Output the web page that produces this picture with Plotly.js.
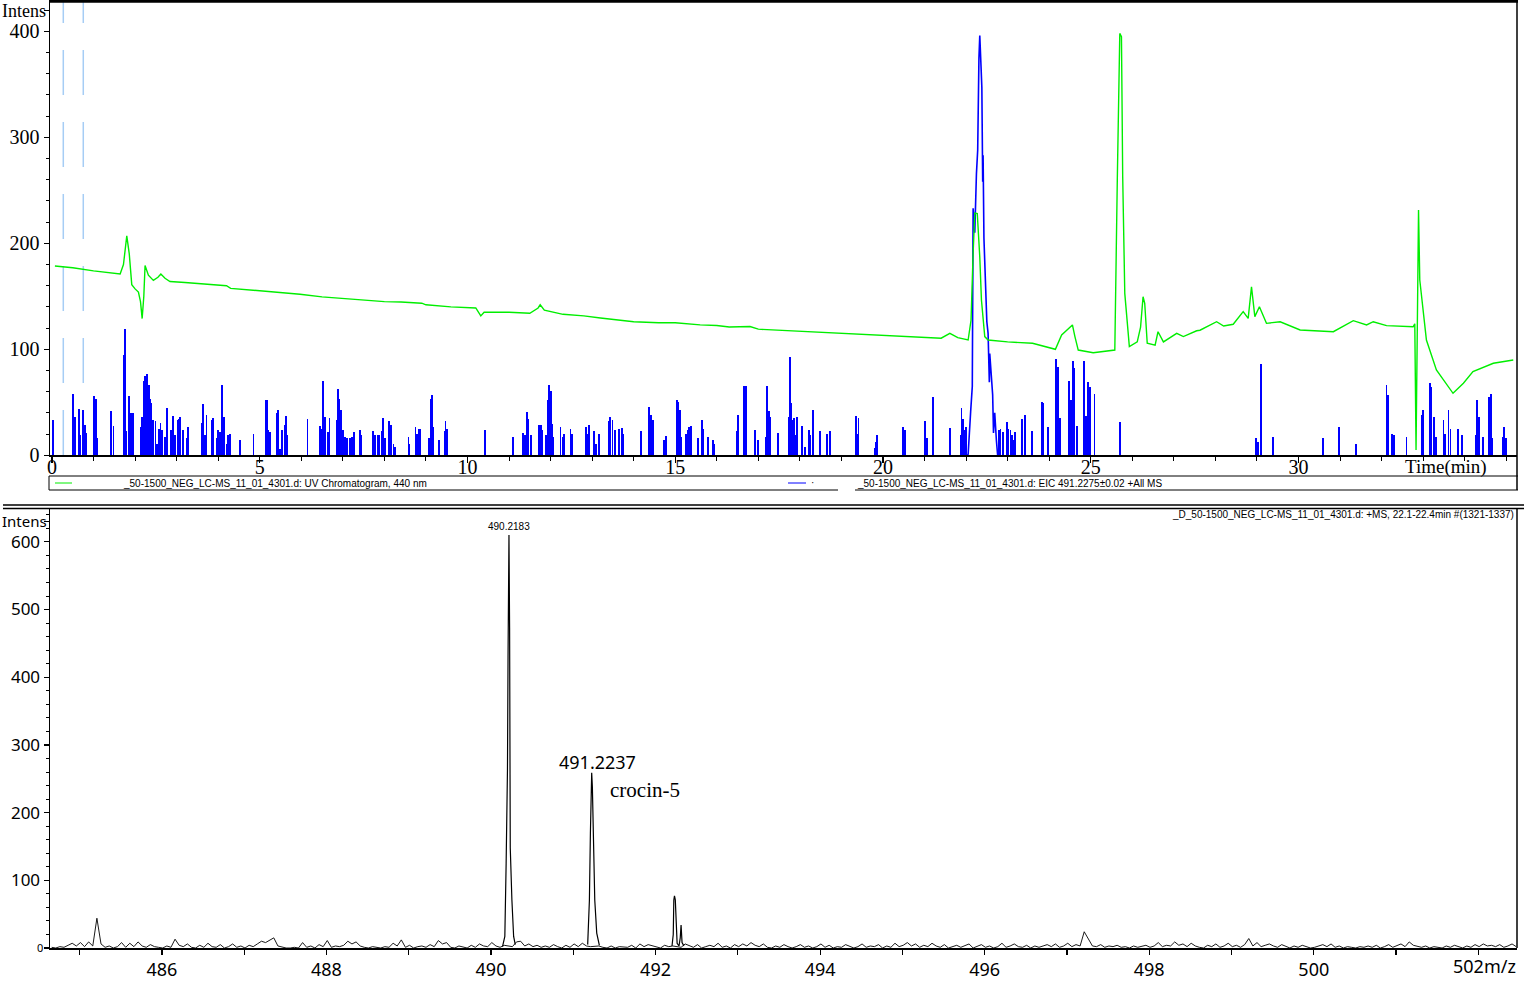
<!DOCTYPE html>
<html><head><meta charset="utf-8">
<script src="https://cdn.plot.ly/plotly-3.0.1.min.js"></script>
<style>html,body{margin:0;padding:0;background:#fff;}#chart{width:1524px;height:982px;}</style>
</head><body><div id="chart"></div>
<script>
// ---------- UV chromatogram (440 nm), minutes vs intensity ----------
const uvTime = [0.07,0.5,1.0,1.3,1.64,1.72,1.80,1.86,1.92,2.0,2.08,2.13,2.17,2.21,2.24,2.32,2.44,2.55,2.62,2.72,2.84,3.2,3.56,3.9,4.2,4.3,4.8,5.17,5.6,5.97,6.5,7.0,7.5,8.0,8.4,8.9,9.0,9.6,10.2,10.28,10.32,10.4,11.0,11.5,11.7,11.75,11.85,12.3,12.8,13.2,13.6,14.0,14.6,15.0,15.6,16.0,16.3,16.8,17.0,18.0,18.7,19.0,19.5,20.4,21.0,21.4,21.61,21.8,22.05,22.12,22.17,22.21,22.27,22.33,22.37,22.45,22.53,23.0,23.6,24.06,24.15,24.3,24.46,24.56,24.62,24.7,25.06,25.4,25.58,25.64,25.70,25.74,25.77,25.82,25.93,26.12,26.2,26.26,26.3,26.36,26.55,26.62,26.75,27.07,27.23,27.55,27.63,28.03,28.2,28.43,28.67,28.79,28.87,28.95,29.06,29.23,29.56,30.04,30.5,30.84,31.32,31.64,31.8,32.12,32.76,32.80,32.83,32.86,32.89,32.92,33.08,33.32,33.72,33.97,34.2,34.69,35.17];
const uvInt = [178.6,177,174,172.5,171,180,207,190,161,157,154,145,129,150,179,170,165,168,171,167,164,163,162,161,160,157.5,156,155,153.5,152,149.5,148,146.5,145,144.6,143.5,142,140,139,134,131.5,135,135,134,139,142,137,133,131.5,129.5,128,126,125,125,123,122.5,121,121.5,119,117,115.5,115.2,114.5,112,111,110.5,115,111,108.8,127.6,190.8,228.5,228,187,146.5,112,108.8,107,105.7,101,100,113.5,119.8,123,112,99.3,96.8,98,99.3,259.7,398,395,262.8,152.8,102.5,107,121,149.6,143.4,105.7,104,116.6,107,115,112,117.5,118,126,122,123.6,135.5,129.2,159,130.8,140.2,124.5,126,118.2,117,116.6,127,123,126,122.3,121.3,124,5,120,231.4,165.4,108.8,80.5,58.5,68,78.9,86.8,89.9];

// ---------- EIC 491.2275 ±0.02 : isolated spikes ----------
const eicTime = [0.03,0.51,0.55,0.64,0.67,0.75,0.79,0.83,1.01,1.05,1.09,1.43,1.48,1.73,1.75,1.79,1.86,1.90,1.94,2.13,2.17,2.21,2.23,2.25,2.29,2.33,2.36,2.38,2.44,2.49,2.53,2.57,2.61,2.65,2.72,2.77,2.86,2.92,2.97,3.02,3.05,3.08,3.15,3.24,3.28,3.60,3.63,3.69,3.72,3.84,3.87,3.96,4.00,4.04,4.08,4.10,4.14,4.20,4.24,4.28,4.52,4.85,5.14,5.18,5.21,5.25,5.41,5.44,5.49,5.54,5.60,5.63,5.66,6.15,6.45,6.48,6.53,6.57,6.64,6.68,6.85,6.89,6.91,6.95,7.01,7.06,7.09,7.17,7.21,7.27,7.41,7.45,7.73,7.77,7.84,7.88,7.93,7.97,8.01,8.12,8.15,8.22,8.25,8.58,8.60,8.75,8.79,8.84,8.87,9.08,9.12,9.15,9.18,9.32,9.45,9.47,9.51,10.42,11.09,11.34,11.38,11.44,11.47,11.52,11.73,11.76,11.79,11.90,11.94,11.97,12.00,12.03,12.07,12.24,12.29,12.33,12.48,12.51,12.85,12.89,12.92,13.04,13.09,13.16,13.40,13.44,13.49,13.54,13.65,13.71,13.74,14.17,14.36,14.42,14.46,14.74,14.78,15.04,15.07,15.11,15.14,15.25,15.30,15.34,15.37,15.54,15.64,15.67,15.79,15.90,15.93,16.49,16.52,16.66,16.70,16.91,17.00,17.19,17.21,17.25,17.28,17.47,17.74,17.77,17.79,17.83,17.86,17.89,17.94,18.05,18.13,18.21,18.24,18.31,18.48,18.66,18.72,19.35,19.38,19.41,19.80,19.83,19.86,20.49,20.53,21.01,21.07,21.20,21.61,21.87,21.89,21.93,21.97,22.00,22.80,22.83,22.88,22.98,23.02,23.07,23.10,23.14,23.18,23.35,23.42,23.58,23.82,23.86,23.98,24.17,24.21,24.26,24.48,24.53,24.57,24.60,24.66,24.83,24.88,24.94,24.98,25.09,25.70,28.98,29.02,29.09,29.11,29.39,30.60,30.97,31.38,32.12,32.16,32.26,32.30,32.60,32.97,33.00,33.16,33.20,33.26,33.30,33.49,33.53,33.61,33.66,33.83,33.93,34.26,34.30,34.35,34.44,34.59,34.63,34.66,34.92,34.95,35.00];
const eicInt = [33,57.5,36,44,19,43,29,21,56,53,16,42,28,95,119.5,23,56,40,40,27,36,70,74.5,45,77,66,53.5,49,33,32,11,25,30.5,24,17,44.6,23.6,37,19,33,34,36,23.6,16,27,30.5,48,19,38,33,35,16,23.6,22,58,66,36,11,19,20,14,20,52,52,23.6,22,40,43,6,23.6,29,37,19,34,28,25,70,36,22,35,33,63,53.5,42.5,23.6,17,16,16,17,22,24,19,23,19.5,19,19,23,35.5,16,32,29,11,8,17,11,27,20,25,25,16,53,56.6,27,14,23,32,25,24,17,21,19,40.6,34.6,19,29,29,24,19,52,66,61,30,17,27,17,20,25,20,27,20,29,23,11,20,32,36,33,23.6,25,26,20,23,46,38,33,14,18,52,50,42.5,17,20,23.6,27,28,16,33,25,17,14,11,23,38,65,65,24,14,17,65,42,36,21,36,93,49,33,35,19,36,28,8,23.6,19,43,23,20,23,37,20,35.5,7,12.6,19,27,23.6,32,16,55,26,19,45,34,23.6,27,23.6,25,22,31,25,23.6,19,14,22,34,38,23,50,49,27,91,83,35,70,52,89,82,28,89,37,69,64,57.5,31,16,12.6,86,77,17,16,27,11,66,57,20,19,17,38,42.5,68,64,36,17,33,20,42.5,25,25,19,19,52,36,17,55,57.5,16,17,27,16];
// main EIC peak (continuous trace)
const eicPeakTime = [22.03,22.05,22.11,22.15,22.17,22.21,22.25,22.28,22.31,22.33,22.36,22.38,22.40,22.41,22.43,22.47,22.50,22.53,22.56,22.57,22.60,22.64,22.66,22.69,22.73,22.76];
const eicPeakInt = [0,1,41,65,233,210,266,288,375,396,367,347,258,283,205,145,126,115,69,96,78.5,57,21,40,14,0];

// ---------- Mass spectrum, +MS 22.1-22.4 min ----------
const msNoiseStart = 484.66, msNoiseStep = 0.05;
const msNoise = [
1,0,2,1,4,7,3,8,2,9,3,44,6,1,3,0,2,8,1,7,
2,9,3,1,5,2,1,0,3,1,13,4,2,6,1,0,4,1,7,2,
1,5,0,2,6,1,3,0,4,2,6,10,8,12,15,3,1,0,0,1,
0,8,1,3,0,5,2,11,1,3,2,4,10,6,9,3,1,0,2,1,
0,2,1,7,3,12,1,4,0,2,3,1,5,2,11,6,8,1,0,3,
2,0,4,1,6,3,2,8,3,1,4,3,2,9,10,3,6,2,4,1,
3,1,5,2,0,4,1,6,2,7,3,2,2,3,1,0,3,0,2,1,
1,4,0,6,2,5,3,1,0,4,2,3,2,1,6,3,1,5,0,2,
4,2,7,1,3,0,5,2,6,3,8,4,2,6,1,0,3,1,5,2,
0,2,5,1,3,0,2,6,1,4,0,2,1,5,3,0,2,6,1,3,
2,5,0,3,1,7,2,4,8,3,6,1,4,2,7,3,1,5,0,2,
4,1,3,6,0,2,5,1,3,0,2,7,1,3,6,2,1,4,0,3,
1,3,5,2,6,1,3,7,2,5,3,24,14,3,2,5,1,3,2,4,
1,2,0,3,1,2,4,1,3,8,2,4,3,9,4,6,2,7,3,1,
0,4,2,6,1,3,7,2,4,1,5,14,3,8,2,4,6,3,1,5,
2,0,3,1,4,2,0,1,3,5,2,6,1,3,0,2,1,0,2,1,
3,1,4,0,2,5,1,3,6,2,9,4,2,1,3,0,2,1,0,3,
1,4,2,0,3,1,5,2,6,3,4,2,5,1,3,6,2];
const pkA_mz = [490.14,490.168,490.184,490.200,490.207,490.2183,490.226,490.234,490.254,490.275,490.295];
const pkA_int = [2,17,125,263,430,610,473,148,71,17,5];
const pkB_mz = [491.175,491.196,491.208,491.217,491.2237,491.232,491.245,491.261,491.285,491.317];
const pkB_int = [5,71,170,239,259,238,150,71,22,4];
const pkC_mz = [492.20,492.215,492.222,492.230,492.240,492.262,492.285,492.300,492.310,492.322,492.345];
const pkC_int = [3,20,71,77,71,7,3,15,34,8,3];

// ---------- ticks & labels ----------
const chromXTicks = [0,5,10,15,20,25,30];
const chromYTicks = [0,100,200,300,400,420];
const chromYText = ['0','100','200','300','400',''];
const msXTicks = [485,486,487,488,489,490,491,492,493,494,495,496,497,498,499,500,501,502];
const msXText = ['','486','','488','','490','','492','','494','','496','','498','','500','',''];
const msYTicks = [0,100,200,300,400,500,600,630];
const msYText = ['','100','200','300','400','500','600',''];

// ---------- layout helpers (pixel -> paper) ----------
const W = 1524, H = 982, ML = 50, MR = 7;
const PW = W - ML - MR;
const px = v => (v - ML) / PW;
const py = v => 1 - v / H;

const serif = 'Liberation Serif, Times New Roman, serif';
const sans = 'Noto Sans, Open Sans, Liberation Sans, sans-serif';
const small = 'Liberation Sans, Arial, sans-serif';

const traces = [
  {type:'bar', x:eicTime, y:eicInt, width:0.045, marker:{color:'#0000ff', line:{width:0}}, xaxis:'x', yaxis:'y', hoverinfo:'skip'},
  {type:'scatter', mode:'lines', x:eicPeakTime, y:eicPeakInt, line:{color:'#0000ff', width:1.6}, xaxis:'x', yaxis:'y'},
  {type:'scatter', mode:'lines', x:uvTime, y:uvInt, line:{color:'#00ee00', width:1.4}, xaxis:'x', yaxis:'y'},
  {type:'scatter', mode:'lines', x0:msNoiseStart, dx:msNoiseStep, y:msNoise, line:{color:'#000', width:0.9}, xaxis:'x2', yaxis:'y2'},
  {type:'scatter', mode:'lines', x:pkA_mz, y:pkA_int, line:{color:'#000', width:1.2}, xaxis:'x2', yaxis:'y2'},
  {type:'scatter', mode:'lines', x:pkB_mz, y:pkB_int, line:{color:'#000', width:1.2}, xaxis:'x2', yaxis:'y2'},
  {type:'scatter', mode:'lines', x:pkC_mz, y:pkC_int, line:{color:'#000', width:1.2}, xaxis:'x2', yaxis:'y2'}
];

const L = (x0,y0,x1,y1,opt) => Object.assign({type:'line', xref:'paper', yref:'paper', x0:px(x0), y0:py(y0), x1:px(x1), y1:py(y1), line:{color:'#000', width:1}}, opt||{});

const shapes = [
  {type:'line', xref:'x', yref:'paper', x0:0.272, x1:0.272, y0:py(455), y1:py(1), layer:'below', line:{color:'#a6cdf5', width:1.5, dash:'45px,27px'}},
  {type:'line', xref:'x', yref:'paper', x0:0.753, x1:0.753, y0:py(455), y1:py(1), layer:'below', line:{color:'#a6cdf5', width:1.5, dash:'45px,27px'}},
  L(49,1.2,1518,1.2,{line:{color:'#000', width:3}}),
  L(1517,0,1517,490,{line:{color:'#000', width:1.5}}),
  L(49,476,1518,476),
  L(49,490,838,490),
  L(855,490,1518,490),
  L(49,476,49,490),
  L(55,483,72,483,{line:{color:'#00ee00', width:1}}),
  L(788,483,806,483,{line:{color:'#0000ff', width:1}}),
  L(3,505,1524,505,{line:{color:'#000', width:1.5}}),
  L(3,508.5,1524,508.5,{line:{color:'#000', width:1.5}}),
  L(1517,508,1517,948,{line:{color:'#000', width:1.5}})
];

const A = (o) => Object.assign({showarrow:false, xanchor:'center', yanchor:'middle'}, o);
const annotations = [
  A({xref:'paper', yref:'paper', x:px(0), y:py(11), xanchor:'left', text:'Intens', font:{family:serif, size:18, color:'#000'}}),
  A({xref:'paper', yref:'paper', x:px(1446), y:py(467), text:'Time(min)', font:{family:serif, size:19, color:'#000'}}),
  A({xref:'paper', yref:'paper', x:px(121), y:py(483), xanchor:'left', text:'_50-1500_NEG_LC-MS_11_01_4301.d: UV Chromatogram, 440 nm', font:{family:small, size:10, color:'#000'}}),
  A({xref:'paper', yref:'paper', x:px(855), y:py(483), xanchor:'left', text:'_50-1500_NEG_LC-MS_11_01_4301.d: EIC 491.2275±0.02 +All MS', font:{family:small, size:10, color:'#000'}}),
  A({xref:'paper', yref:'paper', x:px(812), y:py(482), text:'·', font:{family:small, size:10, color:'#000'}}),
  A({xref:'paper', yref:'paper', x:px(1516), y:py(514), xanchor:'right', text:'_D_50-1500_NEG_LC-MS_11_01_4301.d: +MS, 22.1-22.4min #(1321-1337)', font:{family:small, size:10, color:'#000'}}),
  A({xref:'paper', yref:'paper', x:px(0), y:py(521), xanchor:'left', text:'Intens', font:{family:sans, size:15, color:'#000'}}),
  A({xref:'x2', yref:'y2', x:490.2183, y:622, text:'490.2183', font:{family:small, size:10, color:'#000'}}),
  A({xref:'x2', yref:'y2', x:491.30, y:275, text:'491.2237', font:{family:sans, size:18, color:'#000'}}),
  A({xref:'x2', yref:'y2', x:491.87, y:233, text:'crocin-5', font:{family:serif, size:21, color:'#000'}}),
  A({xref:'paper', yref:'paper', x:px(1518), y:py(966), xanchor:'right', text:'502m/z', font:{family:sans, size:18, color:'#000'}}),
  A({xref:'paper', yref:'paper', x:px(45), y:py(947), xanchor:'right', text:'0', font:{family:sans, size:11, color:'#000'}})
];

const axBase = {showgrid:false, zeroline:false, showline:true, linecolor:'#000', linewidth:1.5, ticks:'outside', tickcolor:'#000', tickwidth:1.2, fixedrange:true, ticklabeloverflow:'allow'};

const layout = {
  width:W, height:H, margin:{l:ML, r:MR, t:0, b:0}, paper_bgcolor:'#fff', plot_bgcolor:'#fff', showlegend:false, bargap:0,
  xaxis: Object.assign({}, axBase, {domain:[0,1], anchor:'y', range:[-0.048, 35.26], tickvals:chromXTicks, ticklen:6, ticklabelstandoff:-13,
    tickfont:{family:serif, size:20, color:'#000'}, minor:{dtick:1, tick0:0, ticks:'outside', ticklen:4, tickcolor:'#000', tickwidth:1}}),
  yaxis: Object.assign({}, axBase, {domain:[py(455.3), py(1)], anchor:'x', range:[0, 428.6], tickvals:chromYTicks, ticktext:chromYText, ticklen:5,
    tickfont:{family:serif, size:20, color:'#000'}, minor:{dtick:20, tick0:0, ticks:'outside', ticklen:3, tickcolor:'#000', tickwidth:1}}),
  xaxis2: Object.assign({}, axBase, {domain:[0,1], anchor:'y2', range:[484.64, 502.47], tickvals:msXTicks, ticktext:msXText, ticklen:5,
    tickfont:{family:sans, size:18, color:'#000'}}),
  yaxis2: Object.assign({}, axBase, {domain:[py(948), py(508)], anchor:'x2', range:[0, 650], tickvals:msYTicks, ticktext:msYText, ticklen:5,
    tickfont:{family:sans, size:17, color:'#000'}, minor:{dtick:20, tick0:0, ticks:'outside', ticklen:3, tickcolor:'#000', tickwidth:1}}),
  shapes: shapes,
  annotations: annotations
};

Plotly.newPlot('chart', traces, layout, {staticPlot:true, displayModeBar:false});
</script></body></html>
